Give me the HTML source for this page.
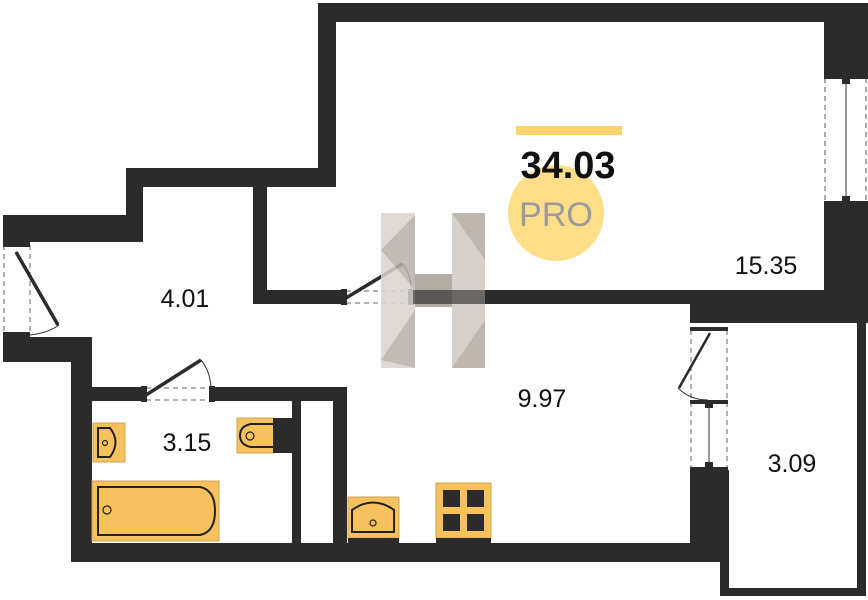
<!DOCTYPE html>
<html><head><meta charset="utf-8"><style>
html,body{margin:0;padding:0;background:#fff;}
svg{display:block;}
text{font-family:"Liberation Sans","DejaVu Sans",sans-serif;}
</style></head><body>
<svg width="868" height="600" viewBox="0 0 868 600" xmlns="http://www.w3.org/2000/svg">
<g fill="#2b2b2b">
 <!-- top living walls -->
 <rect x="318" y="3" width="550" height="19"/>
 <rect x="318" y="3" width="18" height="184"/>
 <rect x="824" y="3" width="44" height="72"/>
 <rect x="824" y="205" width="44" height="100"/>
 <!-- step -->
 <rect x="126" y="168" width="210" height="19"/>
 <rect x="126" y="168" width="17" height="74"/>
 <rect x="3" y="215" width="140" height="27"/>
 <rect x="253" y="187" width="14" height="117"/>
 <!-- living bottom wall -->
 <rect x="253" y="290" width="90" height="14"/>
 <rect x="413" y="290" width="455" height="14"/>
 <rect x="690" y="290" width="178" height="33"/>
 <!-- left lower -->
 <rect x="3" y="337" width="89" height="25"/>
 <rect x="71" y="337" width="21" height="225"/>
 <!-- bathroom top -->
 <rect x="92" y="387" width="51" height="14"/>
 <rect x="213" y="387" width="134" height="14"/>
 <rect x="292" y="401" width="9" height="145"/>
 <rect x="333" y="387" width="14" height="160"/>
 <!-- bottom -->
 <rect x="71" y="543" width="657" height="19"/>
 <!-- kitchen right wall -->
 <rect x="690" y="470" width="38" height="80"/>
 <!-- balcony -->
 <rect x="720" y="470" width="9" height="126"/>
 <rect x="720" y="588" width="146" height="8"/>
 <rect x="857" y="300" width="9" height="296"/>
</g>
<!-- right window -->
<g stroke="#555" fill="none">
 <line x1="825" y1="78" x2="825" y2="203" stroke-dasharray="5,4"/>
 <line x1="866" y1="78" x2="866" y2="203" stroke-dasharray="5,4"/>
 <line x1="846" y1="80" x2="846" y2="200" stroke="#333"/>
</g>
<rect x="824" y="75" width="44" height="4" fill="#2b2b2b"/>
<rect x="824" y="201" width="44" height="4" fill="#2b2b2b"/>
<rect x="842" y="79" width="8" height="5" fill="#2b2b2b"/>
<rect x="842" y="196" width="8" height="5" fill="#2b2b2b"/>
<!-- entrance door -->
<g stroke="#666" fill="none">
 <line x1="4" y1="245" x2="4" y2="334" stroke-dasharray="5,4"/>
 <line x1="30" y1="245" x2="30" y2="334" stroke-dasharray="5,4"/>
 <path d="M30 335 Q48 333 59 325" stroke="#333"/>
</g>
<rect x="3" y="242" width="27" height="5" fill="#2b2b2b"/>
<rect x="3" y="332" width="27" height="5" fill="#2b2b2b"/>
<line x1="16" y1="252" x2="58" y2="325" stroke="#2b2b2b" stroke-width="3.5"/>
<!-- living door -->
<g stroke="#666" fill="none" stroke-dasharray="5,4">
 <line x1="346" y1="291" x2="412" y2="291"/>
 <line x1="346" y1="303" x2="412" y2="303"/>
</g>
<path d="M402 263 Q412 275 411 292" stroke="#333" fill="none"/>
<rect x="341" y="289" width="6" height="16" fill="#2b2b2b"/>
<rect x="408" y="289" width="6" height="16" fill="#2b2b2b"/>
<line x1="346" y1="298" x2="402" y2="264" stroke="#2b2b2b" stroke-width="3.5"/>
<!-- bathroom door -->
<g stroke="#666" fill="none" stroke-dasharray="5,4">
 <line x1="146" y1="388" x2="211" y2="388"/>
 <line x1="146" y1="400" x2="211" y2="400"/>
</g>
<path d="M201 360 Q211 372 211 390" stroke="#333" fill="none"/>
<rect x="141" y="386" width="6" height="16" fill="#2b2b2b"/>
<rect x="209" y="386" width="6" height="16" fill="#2b2b2b"/>
<line x1="146" y1="395" x2="201" y2="360" stroke="#2b2b2b" stroke-width="3.5"/>
<!-- kitchen balcony door -->
<g stroke="#666" fill="none" stroke-dasharray="5,4">
 <line x1="691" y1="330" x2="691" y2="468"/>
 <line x1="727" y1="330" x2="727" y2="468"/>
</g>
<rect x="690" y="327" width="38" height="4" fill="#2b2b2b"/>
<rect x="690" y="400" width="38" height="4" fill="#2b2b2b"/>
<rect x="690" y="467" width="38" height="4" fill="#2b2b2b"/>
<line x1="710" y1="333" x2="679" y2="388" stroke="#2b2b2b" stroke-width="2.5"/>
<line x1="713" y1="336" x2="682" y2="390" stroke="#fff" stroke-width="0.8"/>
<path d="M678 388 Q690 400 708 400" stroke="#333" fill="none"/>
<line x1="709" y1="404" x2="709" y2="466" stroke="#333"/>
<rect x="705" y="404" width="8" height="4" fill="#2b2b2b"/>
<rect x="705" y="462" width="8" height="6" fill="#2b2b2b"/>
<!-- fixtures -->
<g stroke="#222" stroke-width="2">
 <rect x="93" y="423" width="32" height="39" fill="#f7c25e" stroke="#c9a25a" stroke-width="1"/>
 <path d="M98 428 H110 Q121 442 110 457 H98 Z" fill="#f7c25e"/>
 <circle cx="105" cy="443" r="2.5" fill="none" stroke-width="1.2"/>
 <rect x="237" y="418" width="37" height="35" fill="#f7c25e" stroke="#c9a25a" stroke-width="1"/>
 <rect x="273" y="418" width="19" height="35" fill="#2b2b2b" stroke="none"/>
 <path d="M273 424 H251 Q240 426 240 435.5 Q240 445 251 447 H273" fill="#f7c25e"/>
 <circle cx="250" cy="436" r="4" fill="none" stroke-width="1.2"/>
 <rect x="92" y="481" width="127" height="60" fill="#f7c25e" stroke="#c9a25a" stroke-width="1"/>
 <path d="M98 487 H200 Q215 490 215 511 Q215 532 200 535 H98 Z" fill="#f7c25e"/>
 <circle cx="107" cy="510" r="4" fill="none" stroke-width="1.2"/>
 <rect x="348" y="497" width="51" height="41" fill="#f7c25e" stroke="#c9a25a" stroke-width="1"/>
 <path d="M352 532 V510 Q373 495 394 510 V532 Z" fill="#f7c25e"/>
 <circle cx="373" cy="523" r="3" fill="none" stroke-width="1.2"/>
 <rect x="436" y="483" width="55" height="55" fill="#f7c25e" stroke="#c9a25a" stroke-width="1"/>
</g>
<g fill="#2b2b2b">
 <rect x="443" y="490" width="17" height="17"/><rect x="467" y="490" width="17" height="17"/>
 <rect x="443" y="514" width="17" height="17"/><rect x="467" y="514" width="17" height="17"/>
 <rect x="436" y="538" width="55" height="6"/><rect x="348" y="538" width="51" height="6"/>
</g>
<!-- H logo -->
<g opacity="0.85">
 <rect x="381" y="213" width="34" height="155" fill="#d9d3ce"/>
 <rect x="452" y="213" width="33" height="155" fill="#cfc8c1"/>
 <polygon points="381,250 415,215 415,290" fill="#b8b0a8"/>
 <polygon points="381,360 415,310 415,368" fill="#b8b0a8"/>
 <polygon points="452,213 485,213 485,260" fill="#b3aaa2"/>
 <polygon points="452,368 485,320 485,368" fill="#b3aaa2"/>
 <rect x="415" y="274" width="37" height="33" fill="#a89f97"/>
</g>
<rect x="413" y="290" width="72" height="14" fill="#2b2b2b" opacity="0.55"/>
<!-- labels -->
<rect x="516" y="126" width="106" height="9" fill="#ffd36e"/>
<circle cx="556" cy="213" r="48" fill="#ffde8a"/>
<text x="568" y="178" font-size="38" font-weight="bold" text-anchor="middle" fill="#111">34.03</text>
<text x="556" y="226" font-size="34" text-anchor="middle" fill="#9a9a9a">PRO</text>
<g font-size="25" fill="#111" text-anchor="middle">
 <text x="766" y="274">15.35</text>
 <text x="185" y="307">4.01</text>
 <text x="542" y="407">9.97</text>
 <text x="187" y="451">3.15</text>
 <text x="792" y="472">3.09</text>
</g>
</svg>
</body></html>
